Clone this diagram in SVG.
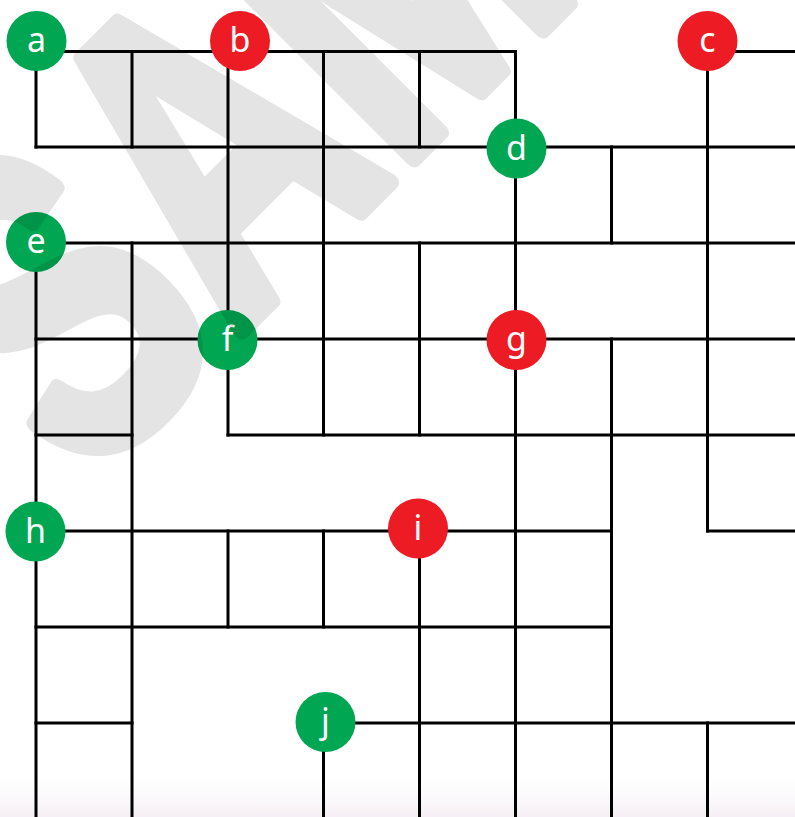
<svg xmlns="http://www.w3.org/2000/svg" width="795" height="817" viewBox="0 0 795 817">
<defs>
<style>
.ln{stroke:#000;stroke-width:3;fill:none;stroke-linecap:square}
.gr{fill:#00a651}
.rd{fill:#ed1c24}
.lb{fill:#fff;font-family:"Noto Sans","DejaVu Sans",sans-serif;font-size:34px;text-anchor:middle;dominant-baseline:central}
.wm{fill:#000;stroke:#000;stroke-width:18;stroke-linejoin:round;font-family:"Liberation Sans",Arial,sans-serif;font-weight:bold;font-size:443px}
</style>
<linearGradient id="bot" x1="0" y1="0" x2="0" y2="1">
<stop offset="0" stop-color="#fff" stop-opacity="0"/>
<stop offset="1" stop-color="#f5eef4"/>
</linearGradient>
</defs>
<rect width="795" height="817" fill="#fff"/>
<rect x="0" y="770" width="795" height="47" fill="url(#bot)"/>
<g id="connectors">
<path class="ln" d="M36 51.5H515.5M707.5 51.5H795M36 147H795M36 243H795M36 339H795M36 435H132M228 435H795M36 531H611.5M707.5 531H795M36 627H611.5M36 723H132M323.5 723H795"/>
<path class="ln" d="M36 41V147M36 243V817M132 51.5V147M132 243V817M228 41V435M228 531V627M323.5 51.5V435M323.5 531V627M323.5 723V817M419.5 51.5V147M419.5 243V435M419.5 531V817M515.5 51.5V817M611.5 147V243M611.5 339V817M707.5 41V531M707.5 723V817"/>
</g>
<g id="node-a"><circle class="gr" cx="36.5" cy="41" r="30"/><text class="lb" x="36.5" y="39">a</text></g>
<g id="node-b"><circle class="rd" cx="240" cy="41" r="30"/><text class="lb" x="240" y="39">b</text></g>
<g id="node-c"><circle class="rd" cx="707.5" cy="41" r="30"/><text class="lb" x="707.5" y="39">c</text></g>
<g id="node-d"><circle class="gr" cx="516.5" cy="148.5" r="30"/><text class="lb" x="516.5" y="146.5">d</text></g>
<g id="node-e"><circle class="gr" cx="36" cy="242" r="30"/><text class="lb" x="36" y="240">e</text></g>
<g id="node-f"><circle class="gr" cx="227.5" cy="340" r="30"/><text class="lb" x="227.5" y="338">f</text></g>
<g id="node-g"><circle class="rd" cx="516.5" cy="340" r="30"/><text class="lb" x="516.5" y="338">g</text></g>
<g id="node-h"><circle class="gr" cx="35.5" cy="531.5" r="30"/><text class="lb" x="35.5" y="529.5">h</text></g>
<g id="node-i"><circle class="rd" cx="418" cy="528.5" r="30"/><text class="lb" x="418" y="526.5">i</text></g>
<g id="node-j"><circle class="gr" cx="325.5" cy="722" r="30"/><text class="lb" x="325.5" y="720">j</text></g>
<g id="watermark" opacity="0.1"><text class="wm" transform="translate(84 488) rotate(-45) scale(0.72 1)">SAMPLE</text></g>
</svg>
